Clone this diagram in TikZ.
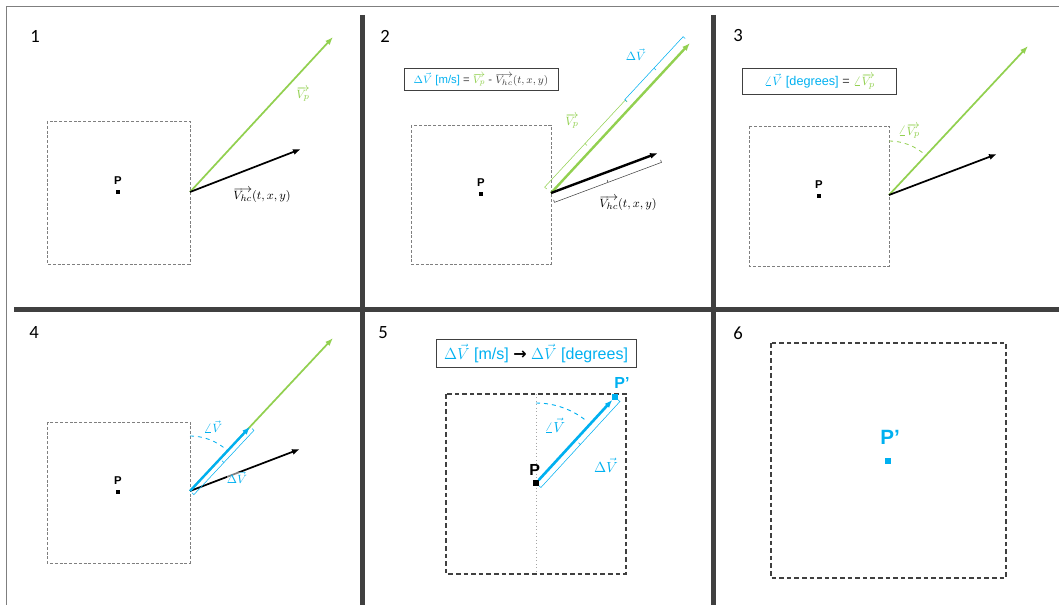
\documentclass[tikz,border=0pt]{standalone}
\usepackage{fontspec}
\setmainfont{Carlito}
\newfontfamily\arialfont{Liberation Sans}
\newfontfamily\symbfont{DejaVu Sans}
\usetikzlibrary{arrows.meta, positioning, calc}

\definecolor{vpgreen}{HTML}{92D050}
\definecolor{dvblue}{HTML}{00B0F0}
\definecolor{bardark}{HTML}{404040}
\definecolor{boxgray}{HTML}{7F7F7F}

\begin{document}
\begin{tikzpicture}[
    x=0.75pt, y=-0.75pt,
    divider/.style={line width=3.75pt, bardark},
    cellbox/.style={draw=boxgray, line width=0.7pt, dash pattern=on 2.2pt off 1.4pt},
    bigcellbox/.style={draw=bardark, line width=0.9pt, dash pattern=on 3.5pt off 2.2pt},
    panelno/.style={font=\fontsize{14}{16}\selectfont, inner sep=0pt},
    dot/.style={fill=black, minimum size=3pt, inner sep=0pt},
    ptlabel/.style={font=\arialfont\bfseries\fontsize{8.5}{10}\selectfont, inner sep=0pt},
    eqbox/.style={draw=bardark, line width=0.7pt, inner sep=2pt, text=bardark,
                  font=\arialfont\fontsize{8.5}{10}\selectfont},
    vlabel/.style={font=\fontsize{9.5}{11}\selectfont, inner sep=0pt},
    arr/.style={-{Latex[length=6pt,width=4.5pt]}, line width=1.3pt},
    brkl/.style={line width=0.5pt, to path={
        ($(\tikztostart)!#1-2pt!90:(\tikztotarget)$) -- ($(\tikztostart)!#1!90:(\tikztotarget)$)
        -- ($(\tikztotarget)!#1!-90:(\tikztostart)$) -- ($(\tikztotarget)!#1-2pt!-90:(\tikztostart)$)
        ($(\tikztostart)!.5!(\tikztotarget)$) coordinate (brkmid)
        ($(brkmid)!#1!90:(\tikztotarget)$) -- ($(brkmid)!#1-2pt!90:(\tikztotarget)$)}},
    brkr/.style={line width=0.5pt, to path={
        ($(\tikztostart)!#1-2pt!-90:(\tikztotarget)$) -- ($(\tikztostart)!#1!-90:(\tikztotarget)$)
        -- ($(\tikztotarget)!#1!90:(\tikztostart)$) -- ($(\tikztotarget)!#1-2pt!90:(\tikztostart)$)
        ($(\tikztostart)!.5!(\tikztotarget)$) coordinate (brkmid)
        ($(brkmid)!#1!-90:(\tikztotarget)$) -- ($(brkmid)!#1-2pt!-90:(\tikztotarget)$)}}
  ]
  \useasboundingbox (0,0) rectangle (1059,605);

  % Frame and dividers
  \draw[boxgray, line width=0.75pt] (6,605) -- (6,7) -- (1059,7);
  \draw[divider] (362,15) -- (362,605);
  \draw[divider] (713,15) -- (713,605);
  \draw[divider] (14,309.5) -- (1059,309.5);

  % Panel 1
  \node[panelno] (n1) at (35,36) {1};
  \draw[cellbox] (47,121) rectangle (190,264);
  \node[dot] (p1) at (118,192) {};
  \node[ptlabel, above=4pt of p1] {P};
  \coordinate (o1) at (190,192);
  \coordinate (g1) at (333,37);
  \coordinate (k1) at (301,149);
  \draw[arr, vpgreen] (o1) -- (g1);
  \draw[arr, black] (o1) -- (k1);
  \node[vlabel, text=vpgreen] at (303,94) {$\overrightarrow{V_p}$};
  \node[vlabel] at (262,195) {$\overrightarrow{V_{hc}}(t,x,y)$};

  % Panel 2
  \node[panelno] (n2) at (385,36) {2};
  \node[eqbox, minimum width=115.5pt, minimum height=17pt] (eq2) at (481,79.5)
    {\textcolor{dvblue}{$\Delta\vec{V}$ [m/s]} = \textcolor{vpgreen}{$\overrightarrow{V_p}$}
     - $\overrightarrow{V_{hc}}(t,x,y)$};
  \draw[cellbox] (411,125) rectangle (551,264);
  \node[dot] (p2) at (481,194) {};
  \node[ptlabel, above=4pt of p2] {P};
  \coordinate (o2) at (551,193);
  \coordinate (g2) at (690,43);
  \coordinate (k2) at (658,153);
  \coordinate (m2) at ($(o2)!.58!(g2)$);
  \draw[arr, vpgreen, line width=1.8pt] (o2) -- (g2);
  \draw[arr, black, line width=1.8pt] (o2) -- (k2);
  \draw[vpgreen] (o2) to[brkl=6.5pt] (m2);
  \draw[dvblue] (m2) to[brkl=7pt] (g2);
  \draw[bardark] (o2) to[brkr=7.5pt] (k2);
  \node[vlabel, text=vpgreen] at (572,121) {$\overrightarrow{V_p}$};
  \node[vlabel, text=dvblue] at (636,55) {$\Delta\vec{V}$};
  \node[vlabel] at (628,203) {$\overrightarrow{V_{hc}}(t,x,y)$};

  % Panel 3
  \node[panelno] (n3) at (738,36) {3};
  \node[eqbox, font=\arialfont\fontsize{9.5}{11}\selectfont, minimum width=116pt, minimum height=19pt] (eq3) at (819.5,81.5)
    {\textcolor{dvblue}{$\angle\vec{V}$ [degrees]} = \textcolor{vpgreen}{$\angle\overrightarrow{V_p}$}};
  \draw[cellbox] (749,126) rectangle (889,266);
  \node[dot] (p3) at (819,196) {};
  \node[ptlabel, above=4pt of p3] {P};
  \coordinate (o3) at (889,195);
  \coordinate (g3) at (1028,46);
  \coordinate (k3) at (997,154);
  \draw[arr, vpgreen] (o3) -- (g3);
  \draw[arr, black] (o3) -- (k3);
  \draw[vpgreen, dashed, line width=0.6pt] ($(o3)+(0,-54)$) arc[start angle=90, end angle=47, radius=40.5pt];
  \node[vlabel, text=vpgreen] at (909,131) {$\angle\overrightarrow{V_p}$};

  % Panel 4
  \node[panelno] (n4) at (34,333) {4};
  \draw[cellbox] (47,422) rectangle (190,563);
  \node[dot] (p4) at (118,492) {};
  \node[ptlabel, above=4pt of p4] {P};
  \coordinate (o4) at (190,491);
  \coordinate (g4) at (333,338);
  \coordinate (k4) at (300,449);
  \coordinate (b4) at ($(o4)!.42!(g4)$);
  \draw[arr, vpgreen] (o4) -- (g4);
  \draw[arr, black] (o4) -- (k4);
  \draw[arr, dvblue, line width=1.8pt] (o4) -- (b4);
  \draw[dvblue] (o4) to[brkr=4pt] (b4);
  \draw[dvblue, dashed, line width=0.6pt] ($(o4)+(0,-55)$) arc[start angle=90, end angle=48, radius=41.25pt];
  \node[vlabel, text=dvblue] at (213,427) {$\angle\vec{V}$};
  \node[vlabel, text=dvblue, fill=white, fill opacity=0.5, text opacity=1] at (237,478) {$\Delta\vec{V}$};

  % Panel 5
  \node[panelno] (n5) at (383,333) {5};
  \node[eqbox, font=\arialfont\fontsize{12}{14}\selectfont, minimum width=150pt, minimum height=21pt] (eq5) at (536,353)
    {\textcolor{dvblue}{$\Delta\vec{V}$ [m/s]} \textcolor{black}{\symbfont\bfseries →}
     \textcolor{dvblue}{$\Delta\vec{V}$ [degrees]}};
  \draw[bigcellbox] (446,394) rectangle (626,574);
  \draw[boxgray!70, dotted, line width=0.6pt] (536,394) -- (536,574);
  \node[dot, minimum size=3.8pt] (p5) at (536,483) {};
  \node[ptlabel, font=\arialfont\bfseries\fontsize{12}{14}\selectfont, above=3pt of p5, xshift=-1pt] {P};
  \node[dot, fill=dvblue, minimum size=3.8pt] (q5) at (615,397) {};
  \node[ptlabel, text=dvblue, font=\arialfont\bfseries\fontsize{12}{14}\selectfont] at (622,383) {P’};
  \draw[arr, dvblue, line width=2pt] (p5) -- (q5);
  \draw[dvblue] (p5) to[brkr=5pt] (q5);
  \draw[dvblue, dashed, line width=0.7pt] ($(p5)+(0,-80)$) arc[start angle=90, end angle=50, radius=60pt];
  \node[vlabel, text=dvblue, font=\fontsize{10.5}{12}\selectfont] at (555,425) {$\angle\vec{V}$};
  \node[vlabel, text=dvblue, font=\fontsize{10.5}{12}\selectfont] at (606,465) {$\Delta\vec{V}$};

  % Panel 6
  \node[panelno] (n6) at (738,333) {6};
  \draw[bigcellbox] (771,343) rectangle (1006,578);
  \node[dot, fill=dvblue, minimum size=4.5pt] (p6) at (888,461) {};
  \node[ptlabel, text=dvblue, font=\arialfont\bfseries\fontsize{15.5}{18}\selectfont] at (890,437) {P’};

\end{tikzpicture}
\end{document}
